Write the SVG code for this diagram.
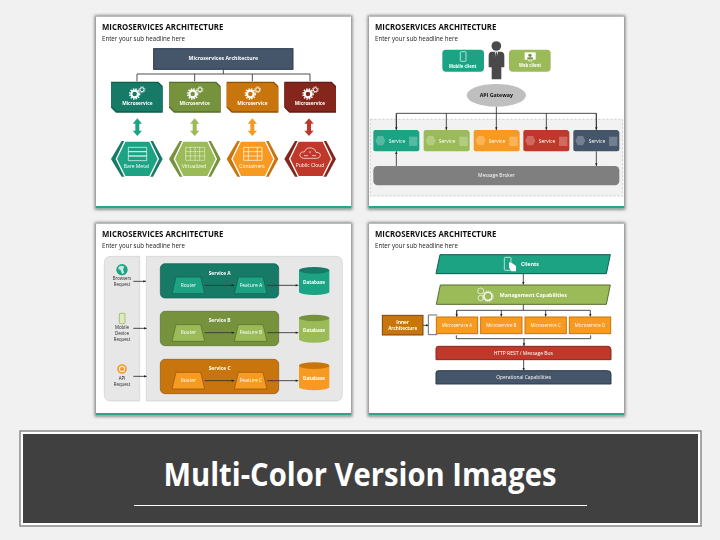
<svg xmlns="http://www.w3.org/2000/svg" xmlns:xlink="http://www.w3.org/1999/xlink" width="720" height="540" viewBox="0 0 720 540">
<style>
text{font-family:"Open Sans","Liberation Sans",sans-serif;text-anchor:middle;fill:#fff}
.ttl{font-weight:700;font-size:25px;fill:#111;text-anchor:start}
.sub{font-size:21px;fill:#222;text-anchor:start}
.b{font-weight:700;font-size:15px}
.m{font-size:15px}
.k{font-size:14.500px;fill:#222}
.ln{fill:none;stroke:#333;stroke-width:2.6}
.ar{marker-end:url(#ah)}
.ic{fill:none;stroke:#fff;stroke-width:2}
.tT{fill:#1ba384}.tD{fill:#177a66}.tX{fill:#0f5c4d}
.gT{fill:#9bbb59}.gD{fill:#76923c}.gX{fill:#566c2b}
.oT{fill:#f79a22}.oD{fill:#c8750a}.oX{fill:#8f5206}
.rT{fill:#c0392b}.rD{fill:#85281f}.rX{fill:#5f1b14}
.nT{fill:#44546a}
</style>
<defs>
<filter id="sh" x="-5%" y="-5%" width="110%" height="110%"><feGaussianBlur stdDeviation="5"/></filter>
<filter id="soft" x="-2%" y="-2%" width="104%" height="104%"><feGaussianBlur stdDeviation="1.300"/></filter>
<marker id="ah" markerUnits="userSpaceOnUse" markerWidth="10" markerHeight="10" refX="9" refY="5" orient="auto"><path d="M1 1.500L9 5L1 8.500z" fill="#222"/></marker>
<g id="panel">
<rect x="-4" y="-4" width="773" height="583" fill="#808080" filter="url(#sh)"/>
<rect x="0" y="0" width="765" height="575" fill="#fff"/>
<rect x="0" y="568" width="765" height="7" fill="#2ba58c"/>
</g>
<g id="gears" class="ic">
<circle cx="-8" cy="4" r="10" stroke-width="6.500"/>
<circle cx="-8" cy="4" r="15" stroke-width="4.500" stroke-dasharray="4.200 3.700"/>
<circle cx="14" cy="-9" r="6" stroke-width="3"/>
<circle cx="14" cy="-9" r="9" stroke-width="2.600" stroke-dasharray="2.500 2.500"/>
</g>
<polygon id="msO" points="63,215 205,215 218,228 218,308 78,308 63,293"/>
<polygon id="msI" points="63,219 203,219 218,233 218,304 80,304 63,288"/>
<polygon id="hexO" points="63,447 95,393 189,393 218,447 189,500 95,500"/>
<polygon id="hexI" points="79,447 105,393 179,393 205,447 179,500 105,500"/>
<polygon id="dbl" points="142,325 156,341 148,341 148,362 156,362 142,378 128,362 136,362 136,341 128,341"/>
<path id="svc" d="M40 360H166L172 366V418Q172 424 166 424H40Q34 424 34 418V366Q34 360 40 360Z"/>
<polygon id="hx" points="-15,0 -8,-14 8,-14 15,0 8,14 -8,14"/>
<polygon id="trap" points="12,0 86,0 98,50 0,50"/>
<g id="db"><rect x="0" y="10" width="91" height="64"/><ellipse cx="45.500" cy="74" rx="45.500" ry="10"/></g>
</defs>
<rect width="720" height="540" fill="#f1f1f1"/>

<g id="slide1" transform="translate(90,10) scale(.33333)" filter="url(#soft)">
<use href="#panel" x="18" y="20"/>
<text class="ttl" x="36" y="60" textLength="364" lengthAdjust="spacingAndGlyphs">MICROSERVICES ARCHITECTURE</text>
<text class="sub" x="36" y="92" textLength="249" lengthAdjust="spacingAndGlyphs">Enter your sub headline here</text>
<g id="s1-connectors">
<path class="ln" d="M400 178V192M141 214V192H660V214M314 192V214M487 192V214"/>
</g>
<g id="s1-head"><rect x="191" y="116" width="418" height="62" class="nT" stroke="#2b3a4d" stroke-width="3"/><text class="b" x="400" y="151" textLength="209" lengthAdjust="spacingAndGlyphs">Microservices Architecture</text></g>

<g id="s1-ms1"><use href="#msO" class="tX"/><use href="#msI" class="tD"/><use href="#gears" x="142" y="248"/><text class="b" x="142" y="286" textLength="91" lengthAdjust="spacingAndGlyphs">Microservice</text></g>
<g id="s1-ms2" transform="translate(174,0)"><use href="#msO" class="gX"/><use href="#msI" class="gD"/><use href="#gears" x="142" y="248"/><text class="b" x="140" y="286" textLength="91" lengthAdjust="spacingAndGlyphs">Microservice</text></g>
<g id="s1-ms3" transform="translate(347,0)"><use href="#msO" class="oX"/><use href="#msI" class="oD"/><use href="#gears" x="142" y="248"/><text class="b" x="140" y="286" textLength="91" lengthAdjust="spacingAndGlyphs">Microservice</text></g>
<g id="s1-ms4" transform="translate(520,0)"><use href="#msO" class="rX"/><use href="#msI" class="rD"/><use href="#gears" x="142" y="248"/><text class="b" x="140" y="286" textLength="91" lengthAdjust="spacingAndGlyphs">Microservice</text></g>

<use href="#dbl" class="tT"/>
<use href="#dbl" class="gT" x="172"/>
<use href="#dbl" class="oT" x="345"/>
<use href="#dbl" class="rT" x="515"/>

<g id="s1-hex1"><use href="#hexO" class="tD"/><use href="#hexI" class="tT" stroke="#fff" stroke-width="4"/>
<path class="ic" d="M115 412H170V425H115zM115 425H170V438H115zM115 438H170V452H115z"/><text class="m" x="139" y="474" textLength="76" lengthAdjust="spacingAndGlyphs">Bare Metal</text></g>
<g id="s1-hex2" transform="translate(174,0)"><use href="#hexO" class="gD"/><use href="#hexI" class="gT" stroke="#fff" stroke-width="4"/>
<path class="ic" d="M113 412H170V451H113zM113 425H170M113 438H170M127 412V451M141 412V451M155 412V451" stroke-dasharray="4 1.500"/><text class="m" x="138" y="474" textLength="72" lengthAdjust="spacingAndGlyphs">Virtualized</text></g>
<g id="s1-hex3" transform="translate(347,0)"><use href="#hexO" class="oD"/><use href="#hexI" class="oT" stroke="#fff" stroke-width="4"/>
<path class="ic" d="M114 412H169V451H114zM114 425H169M114 438H169M128 412V451M155 412V451"/><text class="m" x="139" y="474" textLength="76" lengthAdjust="spacingAndGlyphs">Containers</text></g>
<g id="s1-hex4" transform="translate(520,0)"><use href="#hexO" class="rD"/><use href="#hexI" class="rT" stroke="#fff" stroke-width="4"/>
<path class="ic" d="M122 445Q108 444 110 432Q113 423 123 426Q128 411 145 414Q157 416 158 427Q172 427 171 437Q169 445 160 445Z"/><path class="ic" stroke-width="1.500" d="M122 437H134M146 437H158M140 430V423"/><text class="m" x="140" y="472" textLength="86" lengthAdjust="spacingAndGlyphs">Public Cloud</text></g>
</g>

<g id="slide2" transform="translate(362,10) scale(.33333)" filter="url(#soft)">
<use href="#panel" x="21" y="20"/>
<text class="ttl" x="39" y="60" textLength="364" lengthAdjust="spacingAndGlyphs">MICROSERVICES ARCHITECTURE</text>
<text class="sub" x="39" y="92" textLength="249" lengthAdjust="spacingAndGlyphs">Enter your sub headline here</text>
<rect x="25" y="328" width="757" height="230" fill="#f2f2f2" stroke="#bdbdbd" stroke-width="2" stroke-dasharray="7 5"/>
<g id="s2-connectors">
<path class="ln" d="M103 358V310H703V358"/>
<path class="ln ar" d="M103 310V360"/><path class="ln ar" d="M253 310V360"/><path class="ln ar" d="M403 290V360"/><path class="ln ar" d="M553 310V360"/><path class="ln ar" d="M703 310V360"/>
<path class="ln ar" d="M103 468V424"/><path class="ln ar" d="M703 424V468"/>
</g>
<g id="s2-mobile"><rect x="241" y="119" width="125" height="66" rx="11" class="tT"/><rect x="295" y="125" width="17" height="29" rx="2.500" class="ic" stroke-width="2.500"/><text class="b" x="302" y="173" textLength="82" lengthAdjust="spacingAndGlyphs">Mobile client</text></g>
<g id="s2-web"><rect x="441" y="119" width="125" height="66" rx="11" class="gT"/><rect x="488" y="127" width="33" height="22" fill="#fff"/><circle cx="504" cy="136" r="5" class="gD"/><rect x="496" y="142" width="17" height="6" class="gD"/><path d="M500 149V153H510V149" class="ic"/><text class="b" x="504" y="170" textLength="66" lengthAdjust="spacingAndGlyphs">Web client</text></g>
<g id="s2-person" fill="#4a4a4a"><circle cx="403" cy="108" r="14.500"/><path d="M388 125H418Q427 127 427 137V172L418 172V208H389V172L380 172V137Q380 127 388 125Z"/><path d="M398 125H408L403 148Z" fill="#fff"/><path d="M401 127H405L406 142L403 149L400 142Z" fill="#4a4a4a"/></g>
<g id="s2-gateway"><ellipse cx="403" cy="256" rx="89" ry="34" fill="#bfbfbf"/><text class="b" x="403" y="262" style="fill:#111" textLength="100" lengthAdjust="spacingAndGlyphs">API Gateway</text></g>
<g id="s2-svc1"><use href="#svc" class="tT"/><use href="#hx" x="55" y="392" fill="#fff" fill-opacity=".25"/><rect x="141" y="380" width="25" height="28" fill="#fff" fill-opacity=".25"/><text class="m" x="105" y="398" textLength="50" lengthAdjust="spacingAndGlyphs">Service</text></g>
<g id="s2-svc2" transform="translate(151,0)"><use href="#svc" class="gT"/><use href="#hx" x="55" y="392" fill="#fff" fill-opacity=".25"/><rect x="141" y="380" width="25" height="28" fill="#fff" fill-opacity=".25"/><text class="m" x="104" y="398" textLength="50" lengthAdjust="spacingAndGlyphs">Service</text></g>
<g id="s2-svc3" transform="translate(301,0)"><use href="#svc" class="oT"/><use href="#hx" x="55" y="392" fill="#fff" fill-opacity=".25"/><rect x="141" y="380" width="25" height="28" fill="#fff" fill-opacity=".25"/><text class="m" x="104" y="398" textLength="50" lengthAdjust="spacingAndGlyphs">Service</text></g>
<g id="s2-svc4" transform="translate(450,0)"><use href="#svc" class="rT"/><use href="#hx" x="55" y="392" fill="#fff" fill-opacity=".25"/><rect x="141" y="380" width="25" height="28" fill="#fff" fill-opacity=".25"/><text class="m" x="105" y="398" textLength="50" lengthAdjust="spacingAndGlyphs">Service</text></g>
<g id="s2-svc5" transform="translate(600,0)"><use href="#svc" class="nT"/><use href="#hx" x="55" y="392" fill="#fff" fill-opacity=".25"/><rect x="141" y="380" width="25" height="28" fill="#fff" fill-opacity=".25"/><text class="m" x="105" y="398" textLength="50" lengthAdjust="spacingAndGlyphs">Service</text></g>
<g id="s2-broker"><rect x="34" y="468" width="738" height="58" rx="13" fill="#7f7f7f"/><text class="m" x="403" y="502" textLength="110" lengthAdjust="spacingAndGlyphs">Message Broker</text></g>
</g>

<g id="slide3" transform="translate(90,218) scale(.33333)" filter="url(#soft)">
<use href="#panel" x="18" y="17"/>
<text class="ttl" x="36" y="57" textLength="364" lengthAdjust="spacingAndGlyphs">MICROSERVICES ARCHITECTURE</text>
<text class="sub" x="36" y="89" textLength="249" lengthAdjust="spacingAndGlyphs">Enter your sub headline here</text>
<path d="M63 115H149V549H63Q43 549 43 529V135Q43 115 63 115Z" fill="#e7e7e7" stroke="#cfcfcf" stroke-width="2"/>
<path d="M169 115H737Q757 115 757 135V529Q757 549 737 549H169Z" fill="#e7e7e7" stroke="#cfcfcf" stroke-width="2"/>
<g id="s3-req1"><circle cx="96" cy="155" r="17" class="tT"/><path d="M86 146Q96 140 103 146L99 155L103 164L96 168L92 157L85 153Z" fill="#fff" fill-opacity=".75"/><text class="k" x="96" y="185" textLength="55" lengthAdjust="spacingAndGlyphs">Browsers</text><text class="k" x="96" y="203" textLength="49" lengthAdjust="spacingAndGlyphs">Request</text></g>
<g id="s3-req2"><rect x="88" y="286" width="17" height="31" rx="2" fill="#dfe9c6" stroke="#9bbb59" stroke-width="2.500"/><text class="k" x="96" y="334" textLength="42" lengthAdjust="spacingAndGlyphs">Mobile</text><text class="k" x="96" y="352" textLength="42" lengthAdjust="spacingAndGlyphs">Device</text><text class="k" x="96" y="370" textLength="49" lengthAdjust="spacingAndGlyphs">Request</text></g>
<g id="s3-req3"><circle cx="96" cy="453" r="12" fill="none" stroke="#f79a22" stroke-width="5"/><circle cx="96" cy="453" r="6" class="oT"/><text class="k" x="96" y="485" textLength="20" lengthAdjust="spacingAndGlyphs">API</text><text class="k" x="96" y="503" textLength="49" lengthAdjust="spacingAndGlyphs">Request</text></g>
<g id="s3-a"><rect x="211" y="137" width="355" height="103" rx="14" class="tD" stroke="#0f5c4d" stroke-width="2"/><text class="b" x="389" y="170" textLength="66" lengthAdjust="spacingAndGlyphs">Service A</text></g>
<g id="s3-b"><rect x="211" y="280" width="355" height="103" rx="14" class="gD" stroke="#566c2b" stroke-width="2"/><text class="b" x="389" y="313" textLength="66" lengthAdjust="spacingAndGlyphs">Service B</text></g>
<g id="s3-c"><rect x="211" y="424" width="355" height="103" rx="14" class="oD" stroke="#8f5206" stroke-width="2"/><text class="b" x="389" y="457" textLength="66" lengthAdjust="spacingAndGlyphs">Service C</text></g>
<g id="s3-ra"><use href="#trap" x="246" y="177" class="tT" stroke="#0f5c4d" stroke-width="2"/><text class="m" x="295" y="206" textLength="46" lengthAdjust="spacingAndGlyphs">Router</text></g>
<g id="s3-fa"><use href="#trap" x="433" y="177" class="tT" stroke="#0f5c4d" stroke-width="2"/><text class="m" x="483" y="206" textLength="68" lengthAdjust="spacingAndGlyphs">Feature A</text></g>
<g id="s3-rb"><use href="#trap" x="246" y="320" class="gT" stroke="#566c2b" stroke-width="2"/><text class="m" x="295" y="349" textLength="46" lengthAdjust="spacingAndGlyphs">Router</text></g>
<g id="s3-fb"><use href="#trap" x="433" y="320" class="gT" stroke="#566c2b" stroke-width="2"/><text class="m" x="483" y="349" textLength="68" lengthAdjust="spacingAndGlyphs">Feature B</text></g>
<g id="s3-rc"><use href="#trap" x="246" y="463" class="oT" stroke="#8f5206" stroke-width="2"/><text class="m" x="295" y="492" textLength="46" lengthAdjust="spacingAndGlyphs">Router</text></g>
<g id="s3-fc"><use href="#trap" x="433" y="463" class="oT" stroke="#8f5206" stroke-width="2"/><text class="m" x="483" y="492" textLength="68" lengthAdjust="spacingAndGlyphs">Feature C</text></g>
<g id="s3-dba"><use href="#db" x="627" y="147" class="tT"/><ellipse cx="672.500" cy="157" rx="45.500" ry="10" class="tD"/><text class="b" x="672" y="199" textLength="66" lengthAdjust="spacingAndGlyphs">Database</text></g>
<g id="s3-dbb"><use href="#db" x="627" y="290" class="gT"/><ellipse cx="672.500" cy="300" rx="45.500" ry="10" class="gD"/><text class="b" x="672" y="342" textLength="66" lengthAdjust="spacingAndGlyphs">Database</text></g>
<g id="s3-dbc"><use href="#db" x="627" y="433" class="oT"/><ellipse cx="672.500" cy="443" rx="45.500" ry="10" class="oD"/><text class="b" x="672" y="485" textLength="66" lengthAdjust="spacingAndGlyphs">Database</text></g>
<g id="s3-connectors">
<path class="ln ar" d="M130 190H168"/><path class="ln ar" d="M130 331H170"/><path class="ln ar" d="M130 475H170"/>
<path class="ln ar" d="M344 202H433"/><path class="ln ar" d="M532 202H625"/>
<path class="ln ar" d="M344 344H433"/><path class="ln ar" d="M532 344H625"/>
<path class="ln ar" d="M344 488H433"/><path class="ln ar" d="M532 488H625"/>
</g>
</g>

<g id="slide4" transform="translate(362,218) scale(.33333)" filter="url(#soft)">
<use href="#panel" x="21" y="17"/>
<text class="ttl" x="39" y="57" textLength="364" lengthAdjust="spacingAndGlyphs">MICROSERVICES ARCHITECTURE</text>
<text class="sub" x="39" y="89" textLength="249" lengthAdjust="spacingAndGlyphs">Enter your sub headline here</text>
<g id="s4-connectors">
<path class="ln ar" d="M484 167V200"/>
<path class="ln" d="M484 259V277"/><path class="ln ar" d="M284 296V277H685V296"/><path class="ln ar" d="M284 277V296"/><path class="ln ar" d="M418 277V296"/><path class="ln ar" d="M551 277V296"/>
<path class="ln" d="M283 352V362H686V352"/><path class="ln ar" d="M486 362V384"/>
<path class="ln ar" d="M485 425V458"/>
<path class="ln ar" d="M183 322H200"/>
<path d="M226 291H199V350H226" fill="none" stroke="#6a6a6a" stroke-width="3"/>
</g>
<g id="s4-clients"><polygon points="234,110 745,110 733,167 222,167" class="tT" stroke="#0f5c4d" stroke-width="3"/><rect x="427" y="118" width="20" height="39" rx="3" class="ic" stroke-width="3"/><path d="M441 133L451 136L462 144V160H448L441 148Z" fill="#fff"/><text x="504" y="145" style="font-weight:700;font-size:18px" textLength="54" lengthAdjust="spacingAndGlyphs">Clients</text></g>
<g id="s4-mgmt"><polygon points="235,201 745,201 733,259 223,259" class="gT" stroke="#566c2b" stroke-width="3"/><g class="ic" stroke-width="3"><circle cx="356" cy="219" r="9"/><circle cx="356" cy="240" r="8"/><circle cx="378" cy="235" r="12" stroke-width="4"/><circle cx="378" cy="235" r="15.500" stroke-width="3" stroke-dasharray="3 3"/></g><text x="514" y="237" style="font-weight:700;font-size:18px" textLength="201" lengthAdjust="spacingAndGlyphs">Management Capabilities</text></g>
<g id="s4-inner"><rect x="61" y="292" width="122" height="59" class="oD" stroke="#7a4604" stroke-width="3"/><text class="b" x="122" y="317" textLength="38" lengthAdjust="spacingAndGlyphs">Inner</text><text class="b" x="122" y="337" textLength="87" lengthAdjust="spacingAndGlyphs">Architecture</text></g>
<g id="s4-msa"><rect x="223" y="297" width="124" height="50" class="oT" stroke="#c8750a" stroke-width="3"/><text class="m" x="285" y="326" textLength="91" lengthAdjust="spacingAndGlyphs">Microservice A</text></g>
<g id="s4-msb"><rect x="356" y="297" width="124" height="50" class="oT" stroke="#c8750a" stroke-width="3"/><text class="m" x="418" y="326" textLength="91" lengthAdjust="spacingAndGlyphs">Microservice B</text></g>
<g id="s4-msc"><rect x="489" y="297" width="124" height="50" class="oT" stroke="#c8750a" stroke-width="3"/><text class="m" x="551" y="326" textLength="91" lengthAdjust="spacingAndGlyphs">Microservice C</text></g>
<g id="s4-msd"><rect x="622" y="297" width="124" height="50" class="oT" stroke="#c8750a" stroke-width="3"/><text class="m" x="684" y="326" textLength="91" lengthAdjust="spacingAndGlyphs">Microservice D</text></g>
<g id="s4-http"><path d="M229 385H737Q747 385 747 395V425H222V392Q222 385 229 385Z" class="rT" stroke="#85281f" stroke-width="3"/><text class="m" x="484" y="410" textLength="178" lengthAdjust="spacingAndGlyphs">HTTP REST / Message Bus</text></g>
<g id="s4-ops"><path d="M229 458H737Q747 458 747 468V498H222V465Q222 458 229 458Z" class="nT" stroke="#2b3a4d" stroke-width="3"/><text class="m" x="485" y="484" textLength="165" lengthAdjust="spacingAndGlyphs">Operational Capabilities</text></g>
</g>

<g id="banner">
<rect x="20" y="431" width="681" height="95" fill="#fff" stroke="#8a8a8a" stroke-width="1.500"/>
<rect x="23" y="434" width="675" height="89" fill="#404040"/>
<text x="360" y="486" style="font-weight:700;font-size:32px" textLength="393" lengthAdjust="spacingAndGlyphs">Multi-Color Version Images</text>
<line x1="134" y1="505.500" x2="587" y2="505.500" stroke="#fff"/>
</g>
</svg>
